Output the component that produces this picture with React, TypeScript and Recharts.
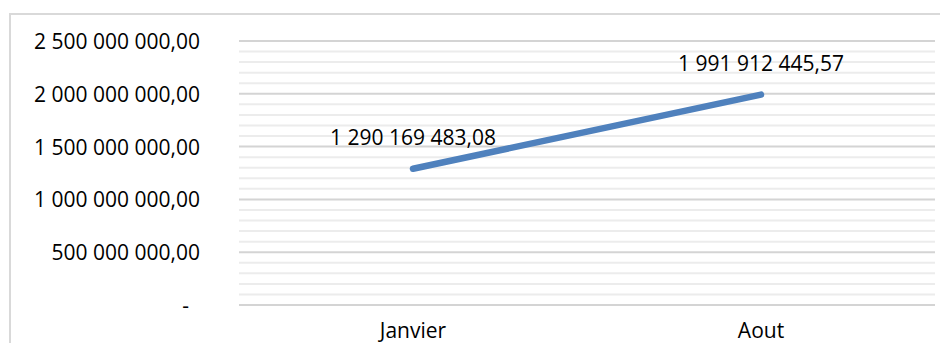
import React from "react";
import {
  LineChart,
  Line,
  XAxis,
  YAxis,
  CartesianGrid,
  ReferenceLine,
  LabelList,
} from "recharts";

const months = ["Janvier", "Aout"];
const totals = [1290169483.08, 1991912445.57];
const majorTicks = [0, 500000000, 1000000000, 1500000000, 2000000000, 2500000000];
const minorTicks = [
  100000000, 200000000, 300000000, 400000000,
  600000000, 700000000, 800000000, 900000000,
  1100000000, 1200000000, 1300000000, 1400000000,
  1600000000, 1700000000, 1800000000, 1900000000,
  2100000000, 2200000000, 2300000000, 2400000000,
];

const data = months.map((m, i) => ({ month: m, total: totals[i] }));

// french style: space as thousands separator, comma for decimals
function fmt(v: number) {
  const [int, dec] = v.toFixed(2).split(".");
  return int.replace(/\B(?=(\d{3})+(?!\d))/g, " ") + "," + dec;
}

const FONT = "'Open Sans', sans-serif";

function YTick({ y, payload }: any) {
  const zero = payload.value === 0;
  return (
    <text
      x={zero ? 181 : 192}
      y={y}
      textAnchor="end"
      dominantBaseline="central"
      fontFamily={FONT}
      fontSize={21}
      fill="#000"
    >
      {zero ? "-" : fmt(payload.value)}
    </text>
  );
}

export default function App() {
  return (
    <div style={{ position: "relative", width: 940, height: 335, overflow: "hidden" }}>
      <div
        style={{
          position: "absolute",
          left: 1,
          top: 5,
          width: 1000,
          height: 400,
          borderTop: "2px solid #d9d9d9",
          borderLeft: "2px solid #d9d9d9",
        }}
      />
      <LineChart
        width={940}
        height={335}
        data={data}
        margin={{ top: 33, right: 13, left: 0, bottom: 0 }}
        style={{ position: "absolute", left: 0, top: 0 }}
      >
        {minorTicks.map((v) => (
          <ReferenceLine key={v} y={v} stroke="#ececec" strokeWidth={2} />
        ))}
        <CartesianGrid
          vertical={false}
          horizontalValues={majorTicks}
          stroke="#d4d4d4"
          strokeWidth={2}
        />
        <XAxis
          dataKey="month"
          scale="band"
          axisLine={false}
          tickLine={false}
          tickSize={0}
          tickMargin={18}
          height={38}
          tick={{ fill: "#000", fontFamily: FONT, fontSize: 21 }}
        />
        <YAxis
          width={231}
          domain={[0, 2500000000]}
          ticks={majorTicks}
          axisLine={false}
          tickLine={false}
          tick={<YTick />}
        />
        <Line
          dataKey="total"
          stroke="#4f81bd"
          strokeWidth={6.5}
          strokeLinecap="round"
          dot={false}
          isAnimationActive={false}
        >
          <LabelList
            dataKey="total"
            position="top"
            offset={24}
            formatter={(v: any) => fmt(Number(v))}
            style={{ fill: "#000", fontFamily: FONT, fontSize: 21 }}
          />
        </Line>
      </LineChart>
    </div>
  );
}
